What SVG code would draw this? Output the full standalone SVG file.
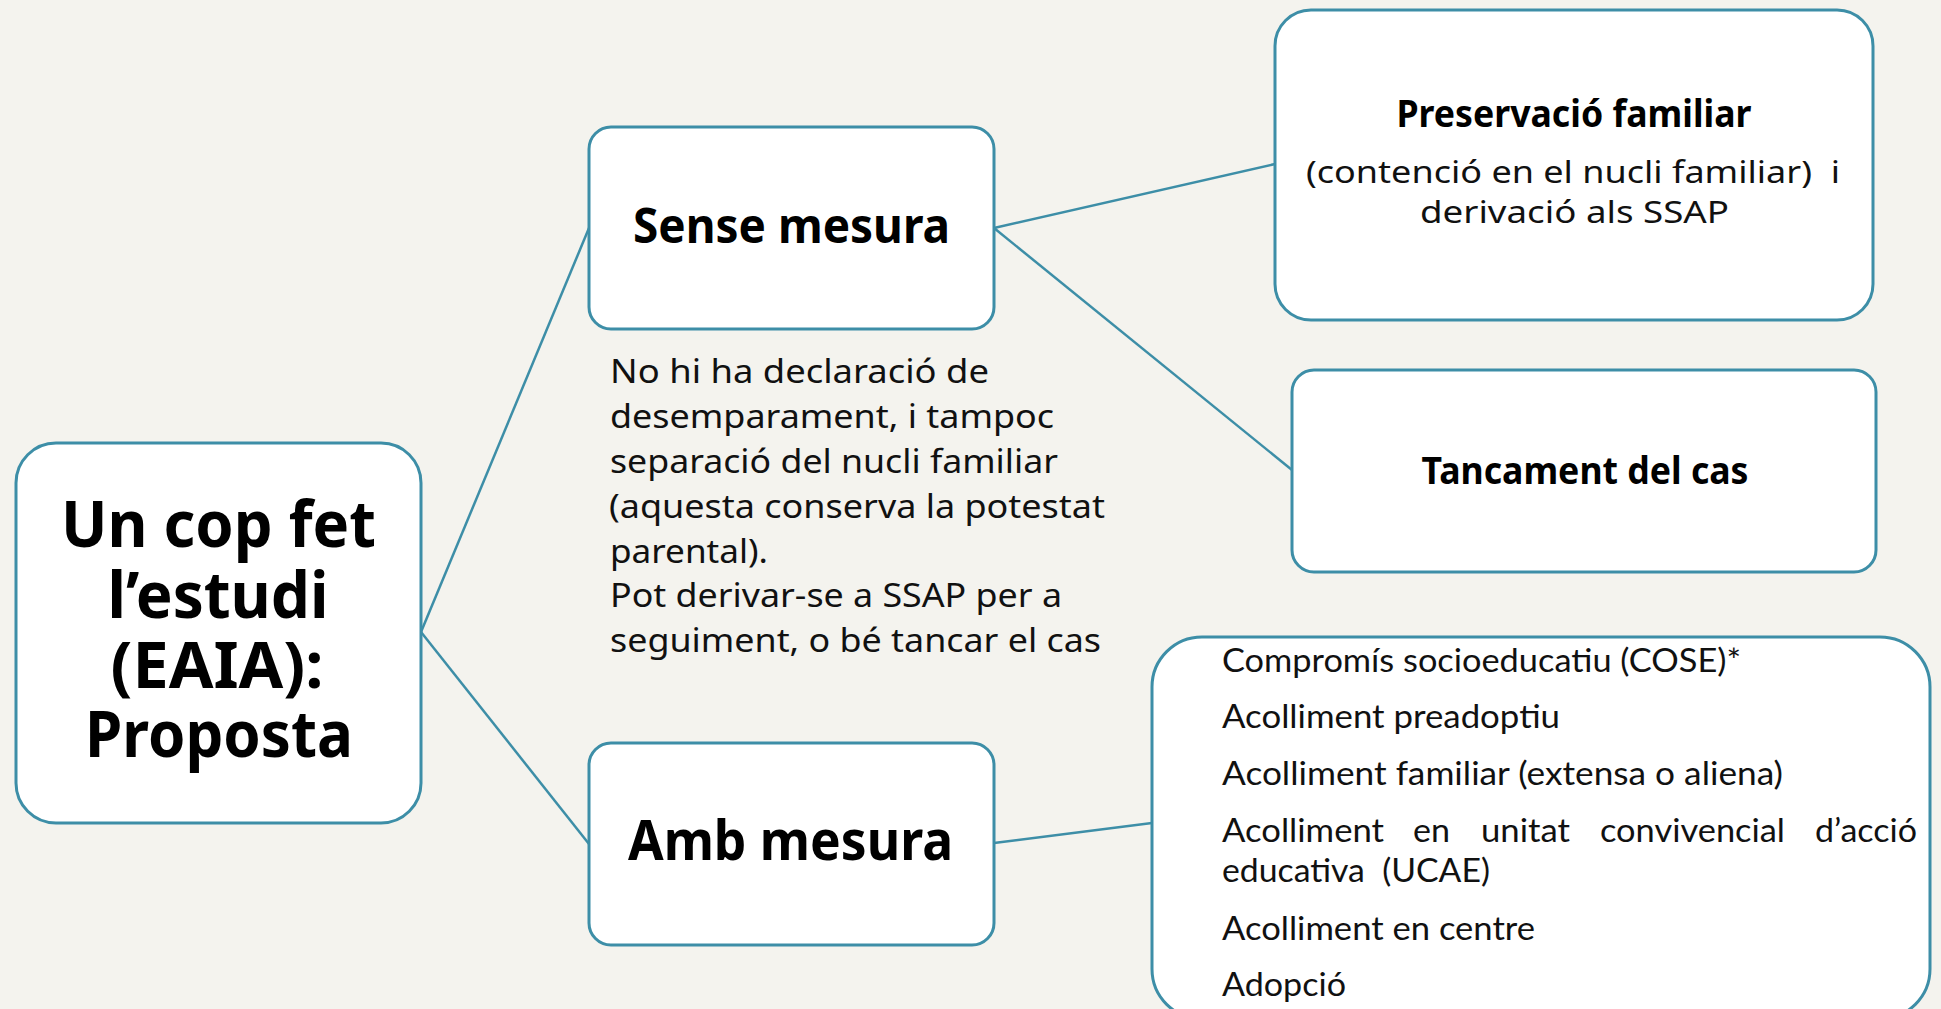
<svg xmlns="http://www.w3.org/2000/svg" width="1941" height="1009" viewBox="0 0 1941 1009">
<style>
.box{fill:#ffffff;stroke:#3d8ea7;stroke-width:3}
.conn line{stroke:#3d8ea7;stroke-width:2.5}
.b{font-family:"Noto Sans","DejaVu Sans",sans-serif;font-weight:bold;fill:#000;text-anchor:middle}
.r{font-family:"Noto Sans","DejaVu Sans",sans-serif;fill:#111;white-space:pre}
.l{font-family:Lato,"Liberation Sans",sans-serif;fill:#111;font-size:32px;white-space:pre}
</style>
<rect x="0" y="0" width="1941" height="1009" fill="#f4f3ee"/>
<g id="connectors" class="conn">
<line x1="421" y1="632" x2="589" y2="228"/>
<line x1="421" y1="632" x2="589" y2="844"/>
<line x1="994" y1="228" x2="1275" y2="164"/>
<line x1="994" y1="228" x2="1292" y2="470"/>
<line x1="994" y1="843" x2="1152" y2="823"/>
</g>
<g id="node-main">
<rect class="box" x="16" y="443" width="405" height="380" rx="40"/>
<text class="b" font-size="64"><tspan x="218.5" y="547" textLength="315" lengthAdjust="spacingAndGlyphs">Un cop fet</tspan><tspan x="218" y="618" textLength="221" lengthAdjust="spacingAndGlyphs">l’estudi</tspan><tspan x="217" y="688" textLength="213" lengthAdjust="spacingAndGlyphs">(EAIA):</tspan><tspan x="219" y="757" textLength="268" lengthAdjust="spacingAndGlyphs">Proposta</tspan></text>
</g>
<g id="node-sense">
<rect class="box" x="589" y="127" width="405" height="202" rx="22"/>
<text class="b" font-size="48" x="791.5" y="243" textLength="317" lengthAdjust="spacingAndGlyphs">Sense mesura</text>
</g>
<g id="note-sense">
<text class="r" font-size="32"><tspan x="610" y="383" textLength="379" lengthAdjust="spacingAndGlyphs">No hi ha declaració de</tspan><tspan x="610" y="428" textLength="444" lengthAdjust="spacingAndGlyphs">desemparament, i tampoc</tspan><tspan x="610" y="473" textLength="448" lengthAdjust="spacingAndGlyphs">separació del nucli familiar</tspan><tspan x="609" y="518" textLength="496" lengthAdjust="spacingAndGlyphs">(aquesta conserva la potestat</tspan><tspan x="610" y="563" textLength="158" lengthAdjust="spacingAndGlyphs">parental).</tspan><tspan x="610" y="607" textLength="452" lengthAdjust="spacingAndGlyphs">Pot derivar-se a SSAP per a</tspan><tspan x="610" y="652" textLength="491" lengthAdjust="spacingAndGlyphs">seguiment, o bé tancar el cas</tspan></text>
</g>
<g id="node-amb">
<rect class="box" x="589" y="743" width="405" height="202" rx="22"/>
<text class="b" font-size="56" x="790.5" y="860" textLength="325" lengthAdjust="spacingAndGlyphs">Amb mesura</text>
</g>
<g id="node-preservacio">
<rect class="box" x="1275" y="10" width="598" height="310" rx="36"/>
<text class="b" font-size="37" x="1574" y="127" textLength="355" lengthAdjust="spacingAndGlyphs">Preservació familiar</text>
<text class="r" font-size="31" text-anchor="middle"><tspan x="1573" y="183" textLength="534" lengthAdjust="spacingAndGlyphs">(contenció en el nucli familiar)  i</tspan><tspan x="1574.5" y="223" textLength="309" lengthAdjust="spacingAndGlyphs">derivació als SSAP</tspan></text>
</g>
<g id="node-tancament">
<rect class="box" x="1292" y="370" width="584" height="202" rx="22"/>
<text class="b" font-size="38" x="1585" y="484" textLength="327" lengthAdjust="spacingAndGlyphs">Tancament del cas</text>
</g>
<g id="node-mesures">
<rect class="box" x="1152" y="637" width="778" height="382" rx="50"/>
<text class="l" x="1222" y="672" textLength="519" lengthAdjust="spacingAndGlyphs">Compromís socioeducatiu (COSE)*</text>
<text class="l" x="1222" y="728" textLength="338" lengthAdjust="spacingAndGlyphs">Acolliment preadoptiu</text>
<text class="l" x="1222" y="785" textLength="561" lengthAdjust="spacingAndGlyphs">Acolliment familiar (extensa o aliena)</text>
<text class="l" y="842"><tspan x="1222" textLength="162" lengthAdjust="spacingAndGlyphs">Acolliment</tspan><tspan x="1413" textLength="37" lengthAdjust="spacingAndGlyphs">en</tspan><tspan x="1481" textLength="89" lengthAdjust="spacingAndGlyphs">unitat</tspan><tspan x="1600" textLength="185" lengthAdjust="spacingAndGlyphs">convivencial</tspan><tspan x="1815" textLength="102" lengthAdjust="spacingAndGlyphs">d’acció</tspan></text>
<text class="l" x="1222" y="882" textLength="268" lengthAdjust="spacingAndGlyphs">educativa  (UCAE)</text>
<text class="l" x="1222" y="940" textLength="313" lengthAdjust="spacingAndGlyphs">Acolliment en centre</text>
<text class="l" x="1222" y="996" textLength="124" lengthAdjust="spacingAndGlyphs">Adopció</text>
</g>
</svg>
